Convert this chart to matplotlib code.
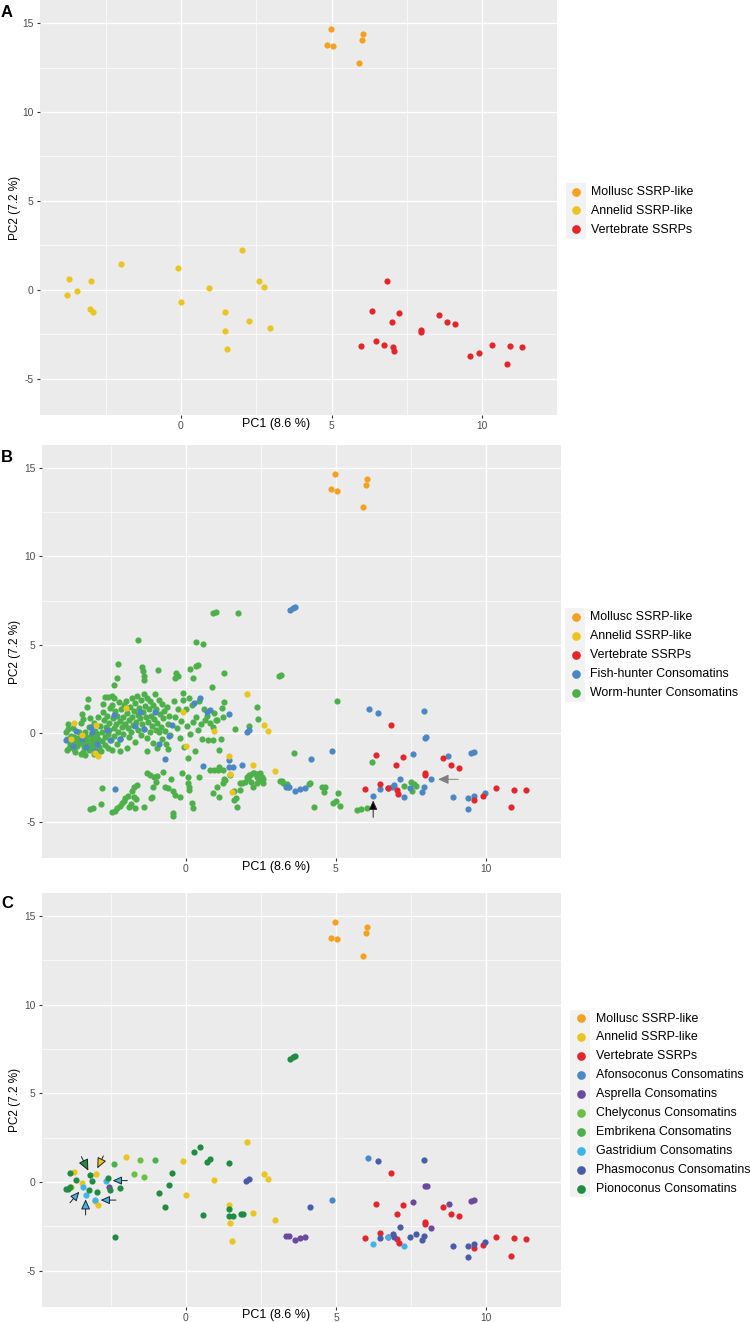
import matplotlib
matplotlib.use('Agg')
import matplotlib.pyplot as plt
from matplotlib.patches import Rectangle

plt.rcParams['font.family'] = ['Liberation Sans', 'DejaVu Sans']
plt.rcParams['axes.unicode_minus'] = False

# ---------------- data ----------------
mollusc = [(4.97, 14.65), (4.84, 13.79), (5.04, 13.71), (6.04, 14.39), (6.01, 14.05), (5.91, 12.77)]

annelid = [(-3.71, 0.58), (-3.80, -0.30), (-3.44, -0.08), (-2.99, 0.47), (-3.03, -1.09), (-2.92, -1.28),
           (-2.00, 1.43), (-0.10, 1.21), (0.00, -0.72), (0.94, 0.11), (1.45, -1.28), (1.47, -2.32),
           (1.54, -3.31), (2.04, 2.24), (2.25, -1.77), (2.60, 0.47), (2.74, 0.15), (2.97, -2.13)]

vertebrate = [(6.33, -1.22), (6.47, -2.88), (5.97, -3.16), (6.84, 0.49), (7.23, -1.32), (7.01, -1.79),
              (7.97, -2.26), (7.97, -2.36), (8.57, -1.41), (8.83, -1.79), (9.09, -1.94), (6.73, -3.11),
              (7.04, -3.22), (7.08, -3.43), (9.59, -3.75), (9.90, -3.54), (10.32, -3.09),
              (10.93, -3.18), (11.33, -3.20), (10.82, -4.18)]

fish_hunter = [(3.47, 6.97), (3.56, 7.08), (3.65, 7.16), (0.47, 2.02), (0.28, 1.70), (0.72, 1.20),
               (0.81, 1.32), (1.44, 1.08), (2.03, 0.07), (2.11, 0.19), (-0.47, 0.49), (-0.56, -0.17),
               (-0.88, -0.60), (-0.68, -1.45), (0.58, -1.87), (1.45, -1.51), (1.43, -1.92), (1.56, -1.92),
               (1.86, -1.79), (4.16, -1.44), (4.86, -1.00), (3.34, -3.03), (3.45, -3.05), (3.63, -3.29),
               (3.80, -3.15), (3.97, -3.12), (6.09, 1.37), (6.39, 1.17), (7.94, 1.26), (7.96, -0.27),
               (8.01, -0.23), (7.58, -1.15), (8.74, -1.26), (9.50, -1.12), (9.60, -1.05), (8.16, -2.60),
               (7.14, -2.58), (6.93, -2.90), (6.87, -3.01), (6.74, -3.10), (6.47, -3.17), (6.24, -3.53),
               (7.26, -3.60), (7.47, -3.10), (7.94, -3.06), (7.85, -3.31), (8.88, -3.62), (9.39, -3.63),
               (9.60, -3.52), (9.97, -3.37), (9.39, -4.26), (-2.36, -3.13), (-3.99, -0.40), (-3.66, 0.13),
               (-3.74, -0.72), (-3.44, -0.34), (-3.33, -0.75), (-3.16, 0.38), (-3.10, 0.06), (-2.94, -0.58),
               (-2.63, 0.19), (-2.52, -0.40), (-2.17, -0.34), (-1.70, 0.43), (-3.02, -1.02), (-1.40, 0.26),
               (-2.38, 1.02), (-1.53, 1.22), (-1.03, 1.22)]

worm_hunter = [
    # outliers
    (0.92, 6.78), (1.00, 6.87), (1.75, 6.80), (-1.60, 5.25), (0.35, 5.18), (0.59, 5.05), (-2.24, 3.92),
    (-1.45, 3.77), (-1.41, 3.54), (-1.37, 3.24), (-1.37, 3.01), (-0.92, 3.58), (-0.32, 3.43), (-0.36, 3.11),
    (-0.25, 3.24), (0.13, 3.62), (0.23, 3.11), (0.34, 3.80), (0.42, 3.86), (1.26, 3.41), (3.10, 3.24),
    (3.17, 3.28), (-2.29, 3.13), (-2.38, 2.75), (0.89, 2.60), (5.05, 1.83),
    (2.39, 1.50), (2.42, 0.83), (2.12, 0.44), (1.65, 0.25), (1.28, 1.77), (1.16, -0.30), (1.12, -0.94),
    (0.92, -0.38), (1.25, 0.94), (1.01, 0.75), (3.59, -1.13), (6.19, -1.64),
    # dense cluster
    (-3.98, 0.08), (-3.92, 0.23), (-3.90, 0.53), (-3.96, -0.96), (-3.89, -0.85), (-3.83, -0.15),
    (-3.79, -0.47), (-3.67, -1.04), (-3.57, -0.28), (-3.51, -0.56), (-3.95, -0.30), (-3.85, -0.60),
    (-3.75, 0.30), (-3.70, -0.20), (-3.62, -0.70), (-3.55, 0.05), (-3.60, -0.45), (-3.72, -0.90),
    (-3.44, 1.09), (-3.43, 0.81), (-3.47, 0.56), (-3.42, -1.05), (-3.48, -1.17), (-3.26, 1.94),
    (-3.27, 1.51), (-3.45, -0.30), (-3.40, -0.55), (-3.38, -0.80), (-3.35, 0.10), (-3.30, -0.20),
    (-3.28, -0.45), (-3.25, -0.70), (-3.22, -0.95), (-3.20, 0.35), (-3.15, -0.10), (-3.12, -0.35),
    (-3.10, -0.60), (-3.08, -0.85), (-3.05, 0.60), (-3.03, 0.15), (-3.00, -0.25), (-3.02, -0.50),
    (-3.06, -1.15), (-3.18, 0.85), (-3.35, -1.25),
    (-2.68, 2.03), (-2.57, 2.07), (-2.46, 2.11), (-2.40, 1.98), (-2.95, -0.05), (-2.92, -0.30),
    (-2.88, -0.75), (-2.85, 0.40), (-2.82, -1.00), (-2.80, 0.10), (-2.78, -0.45), (-2.75, 1.20),
    (-2.72, 0.75), (-2.70, -0.20), (-2.68, -0.65), (-2.65, 0.35), (-2.62, 1.00), (-2.60, -0.05),
    (-2.58, -0.85), (-2.55, 0.60), (-2.52, 1.45), (-2.90, 0.95), (-2.96, -1.05), (-2.76, 1.65),
    (-2.50, -0.40), (-2.55, 0.20),
    (-2.45, 1.60), (-2.42, 0.85), (-2.40, 0.30), (-2.38, -0.15), (-2.35, 1.25), (-2.33, 0.55),
    (-2.30, -0.60), (-2.28, 1.00), (-2.25, 0.10), (-2.22, 1.75), (-2.20, 0.70), (-2.18, -0.35),
    (-2.15, 1.40), (-2.12, 0.35), (-2.10, -0.05), (-2.08, 0.95), (-2.05, 1.60), (-2.02, 0.55),
    (-2.45, -0.95), (-2.20, -1.00),
    (-1.98, 1.85), (-1.95, 1.15), (-1.92, 0.30), (-1.90, -0.20), (-1.88, 0.75), (-1.85, 1.50),
    (-1.82, 0.05), (-1.80, 2.00), (-1.78, 0.95), (-1.75, 0.45), (-1.72, 1.25), (-1.70, -0.50),
    (-1.68, 1.70), (-1.65, 0.65), (-1.62, 2.10), (-1.60, 1.05), (-1.58, 0.20), (-1.55, 1.45),
    (-1.52, 0.85), (-1.50, -0.10), (-1.95, -0.85),
    (-1.48, 1.90), (-1.45, 0.55), (-1.42, 1.20), (-1.40, 2.25), (-1.38, 0.25), (-1.35, 1.55),
    (-1.32, 0.90), (-1.30, -0.25), (-1.28, 2.00), (-1.25, 0.65), (-1.22, 1.35), (-1.20, 0.05),
    (-1.18, 1.80), (-1.15, 1.00), (-1.12, 0.40), (-1.10, -0.55), (-1.08, 1.60), (-1.05, 0.80),
    (-1.02, 2.20), (-1.00, 0.20), (-1.30, -1.00),
    (-0.98, 1.40), (-0.95, 0.60), (-0.90, 1.90), (-0.88, 0.05), (-0.85, 1.10), (-0.82, 0.35),
    (-0.80, -0.30), (-0.78, 1.65), (-0.75, 0.85), (-0.72, 1.25), (-0.70, 0.15), (-0.65, -0.60),
    (-0.62, 1.50), (-0.60, 0.55), (-0.55, 1.00), (-0.52, -0.10), (-0.95, -0.85), (-0.60, -0.90),
    (-0.40, 1.80), (-0.35, 0.90), (-0.30, 0.30), (-0.25, 1.40), (-0.20, -0.25), (-0.15, 0.70),
    (-0.10, 1.90), (-0.05, -0.75), (0.00, 1.35), (0.05, 0.40), (0.10, 2.00), (0.15, -0.05),
    (0.20, 1.60), (0.25, 0.65), (0.30, -1.00), (0.35, 0.95), (0.40, 0.20), (0.45, 1.85), (0.50, 0.55),
    (0.55, -0.30), (0.60, 1.40), (0.65, 0.75), (0.70, 1.00), (0.75, -0.40), (0.80, 0.60), (0.90, 0.35),
    (0.95, 1.15), (1.05, 0.75), (1.20, 1.45), (-0.10, 2.30),
    # lower arc
    (-3.18, -4.27), (-3.09, -4.24), (-2.83, -4.01), (-2.77, -3.11), (-2.45, -4.46), (-2.35, -4.39),
    (-2.27, -4.24), (-2.18, -4.11), (-2.13, -3.95), (-2.05, -3.82), (-2.01, -3.65), (-1.93, -3.52),
    (-1.80, -3.28), (-1.72, -3.01), (-1.63, -2.94), (-1.72, -3.58), (-1.65, -3.73), (-1.83, -3.99),
    (-1.87, -4.18), (-1.69, -4.24), (-1.39, -4.14), (-1.16, -3.63), (-1.13, -3.58), (-1.08, -3.01),
    (-1.00, -2.73), (-1.04, -2.45), (-1.30, -2.26), (-1.19, -2.35), (-0.96, -2.39), (-0.74, -2.17),
    (-0.69, -3.01), (-0.60, -3.11), (-0.43, -3.24), (-0.35, -3.48), (-0.50, -2.60), (-0.41, -4.52),
    (-0.41, -4.67), (-0.19, -3.58), (-0.13, -2.26), (0.09, -2.45), (0.07, -2.82), (0.11, -3.01),
    (0.12, -3.20), (0.07, -1.41), (0.20, -3.95), (0.23, -4.20), (0.43, -2.47), (0.81, -2.07),
    (0.94, -2.07), (1.09, -2.07), (1.12, -1.88), (1.25, -2.07), (1.27, -2.58), (1.31, -2.64),
    (1.25, -2.79), (1.03, -3.01), (0.90, -3.35), (1.12, -3.58), (1.47, -2.37), (1.61, -3.77),
    (1.66, -3.67), (1.72, -4.14), (1.62, -3.24), (1.81, -2.82), (1.86, -2.82), (1.97, -2.73),
    (1.81, -3.20), (2.03, -2.45), (2.12, -2.35), (2.14, -2.35), (2.25, -2.26), (2.27, -2.22),
    (2.38, -2.30), (2.39, -2.45), (2.45, -2.64), (2.49, -2.26), (2.53, -2.45), (2.56, -2.79),
    (2.58, -2.56), (2.38, -2.79), (2.23, -3.01), (2.08, -2.54), (2.19, -2.73), (3.14, -2.69),
    (3.19, -2.71), (3.25, -2.82), (3.36, -2.88), (3.42, -3.01), (4.12, -2.86), (4.14, -2.82),
    (4.27, -4.18), (4.55, -3.05), (4.60, -3.30), (4.63, -3.05), (4.91, -3.92), (5.00, -3.84),
    (5.08, -3.39), (5.13, -4.11), (5.71, -4.35), (5.82, -4.29), (6.02, -4.20),
    (7.28, -2.98), (7.51, -2.77), (7.60, -2.88), (7.65, -2.96), (7.54, -3.26)]

afonsoconus = [(6.07, 1.37), (4.85, -1.00)]
asprella = [(3.34, -3.05), (3.44, -3.05), (3.64, -3.27), (3.81, -3.16), (3.97, -3.08), (7.95, -0.24),
            (8.02, -0.23), (7.57, -1.15), (8.74, -1.26), (9.50, -1.07), (9.60, -1.03), (8.16, -2.58),
            (6.94, -3.12), (-2.54, -0.26)]
chelyconus = [(-1.71, 0.43), (-1.40, 0.26), (-1.53, 1.22)]
embrikena = [(-2.38, 1.02), (-1.03, 1.22)]
gastridium = [(6.24, -3.52), (6.74, -3.08), (7.25, -3.59), (-2.65, 0.06), (-3.43, -0.30),
              (-3.33, -0.73), (-3.02, -1.02)]
phasmoconus = [(2.00, 0.08), (2.10, 0.19), (4.14, -1.43), (6.38, 1.17), (7.94, 1.26), (7.14, -2.56),
               (6.47, -3.16), (6.89, -2.93), (7.47, -3.08), (7.66, -2.95), (7.86, -3.29), (7.93, -3.06),
               (8.88, -3.59), (9.38, -3.63), (9.59, -3.52), (9.95, -3.38), (9.38, -4.23)]
pionoconus = [(3.47, 6.94), (3.56, 7.03), (3.65, 7.12), (0.28, 1.71), (0.47, 1.99), (0.70, 1.15),
              (0.82, 1.30), (1.44, 1.09), (-0.47, 0.49), (-0.55, -0.17), (-0.88, -0.60), (-0.69, -1.43),
              (0.57, -1.88), (1.45, -1.50), (1.43, -1.92), (1.56, -1.92), (1.83, -1.79), (1.90, -1.79),
              (-2.36, -3.12), (-3.85, 0.53), (-3.98, -0.41), (-3.91, -0.38), (-3.85, -0.30), (-3.66, 0.11),
              (-3.18, 0.38), (-3.13, 0.06), (-3.22, -0.47), (-2.94, -0.56), (-2.60, 0.24), (-2.52, -0.47),
              (-2.18, -0.36)]

# arrows: (tip, tail, fill colour, head scale)
arrows_b = [((6.24, -3.80), (6.24, -4.75), 'black', 1.0), ((8.40, -2.60), (9.07, -2.60), '#7F7F7F', 1.15)]
arrows_c = [((-3.24, 0.64), (-3.47, 1.43), '#1F8B43', 1.25), ((-2.94, 0.77), (-2.74, 1.47), '#EBC51F', 1.15),
            ((-2.43, 0.08), (-1.94, 0.08), '#3FB4E6', 1.0), ((-3.54, -0.55), (-3.85, -1.17), '#3FB4E6', 1.0),
            ((-3.33, -0.98), (-3.33, -1.86), '#3FB4E6', 1.1), ((-2.83, -1.02), (-2.32, -1.02), '#3FB4E6', 1.0)]

colors = {
    'Mollusc SSRP-like': '#F5A01F', 'Annelid SSRP-like': '#EAC41F', 'Vertebrate SSRPs': '#E3262B',
    'Fish-hunter Consomatins': '#4B86C5', 'Worm-hunter Consomatins': '#4DB04A',
    'Afonsoconus Consomatins': '#4A89C8', 'Asprella Consomatins': '#6B4A9E',
    'Chelyconus Consomatins': '#6CBE45', 'Embrikena Consomatins': '#4DB04A',
    'Gastridium Consomatins': '#3FB4E6', 'Phasmoconus Consomatins': '#4A5BA8',
    'Pionoconus Consomatins': '#1F8B43'}

base = [('Mollusc SSRP-like', mollusc), ('Annelid SSRP-like', annelid), ('Vertebrate SSRPs', vertebrate)]
panel_b_groups = base + [('Fish-hunter Consomatins', fish_hunter), ('Worm-hunter Consomatins', worm_hunter)]
panel_c_groups = base + [('Afonsoconus Consomatins', afonsoconus), ('Asprella Consomatins', asprella),
                         ('Chelyconus Consomatins', chelyconus), ('Embrikena Consomatins', embrikena),
                         ('Gastridium Consomatins', gastridium), ('Phasmoconus Consomatins', phasmoconus),
                         ('Pionoconus Consomatins', pionoconus)]

W, H = 750, 1322
fig = plt.figure(figsize=(W / 100, H / 100), dpi=100)


def px_rect(l, t, r, b):
    return [l / W, 1 - b / H, (r - l) / W, (b - t) / H]


panels = [
    dict(letter='A', rect=(40, 0, 557, 415), groups=base, xlim=(-4.68, 12.48), arrows=[],
         leg_key=(576, 210.7), key_bg=(566, 183, 586, 239), xlabel_y=424, order=None, let_y=17),
    dict(letter='B', rect=(41.7, 445, 561, 858), groups=panel_b_groups, xlim=(-4.79, 12.49), arrows=arrows_b,
         leg_key=(575.3, 655.3), key_bg=(565, 607.7, 585, 701.7), xlabel_y=867, order=[4, 3, 1, 0, 2],
         let_y=462),
    dict(letter='C', rect=(41.7, 893, 560.7, 1307), groups=panel_c_groups, xlim=(-4.79, 12.47), arrows=arrows_c,
         leg_key=(581, 1103.7), key_bg=(570, 1010, 590, 1196.7), xlabel_y=1315, order=None, let_y=908),
]

for p in panels:
    l, t, r, b = p['rect']
    ax = fig.add_axes(px_rect(l, t, r, b))
    ax.set_facecolor('#EBEBEB')
    ax.set_xlim(*p['xlim'])
    ax.set_ylim(-7.05, 16.3)
    ax.set_xticks([0, 5, 10])
    ax.set_xticks([-2.5, 2.5, 7.5], minor=True)
    ax.set_yticks([-5, 0, 5, 10, 15])
    ax.set_yticks([-2.5, 2.5, 7.5, 12.5], minor=True)
    ax.grid(which='major', color='white', lw=1.0)
    ax.grid(which='minor', color='white', lw=0.45)
    ax.set_axisbelow(True)
    for s in ax.spines.values():
        s.set_visible(False)
    ax.tick_params(which='major', length=2.5, width=0.8, color='#333333', labelsize=7.4,
                   labelcolor='#4D4D4D', pad=2)
    ax.tick_params(which='minor', length=0)

    groups = p['groups']
    order = p['order'] if p['order'] else list(range(len(groups)))
    handles = {}
    for i in order:
        name, pts = groups[i]
        xs = [q[0] for q in pts]
        ys = [q[1] for q in pts]
        handles[name] = ax.scatter(xs, ys, s=20, color=colors[name], linewidths=0, label=name, zorder=3)

    for tip, tail, col, sc in p['arrows']:
        ax.annotate('', xy=tip, xytext=tail, zorder=5,
                    arrowprops=dict(arrowstyle='-|>,head_length=0.55,head_width=0.25', mutation_scale=10 * sc,
                                    fc=col, ec='#222222' if col != '#7F7F7F' else '#7F7F7F', lw=0.7,
                                    shrinkA=0, shrinkB=0))

    # legend key background
    kl, kt, kr, kb = p['key_bg']
    fig.patches.append(Rectangle((kl / W, 1 - kb / H), (kr - kl) / W, (kb - kt) / H,
                                 transform=fig.transFigure, facecolor='#F2F2F2', edgecolor='none', zorder=-5))
    kx, ky = p['leg_key']
    leg = ax.legend([handles[g[0]] for g in groups], [g[0] for g in groups], loc='center left',
                    bbox_to_anchor=((kx - 5.9) / W, 1 - ky / H), bbox_transform=fig.transFigure,
                    frameon=False, borderpad=0, borderaxespad=0, handlelength=1.0, handletextpad=0.7,
                    labelspacing=0.56, fontsize=8.9, markerscale=1.4, scatterpoints=1)

    # axis labels
    fig.text(276 / W, 1 - p['xlabel_y'] / H, 'PC1 (8.6 %)', ha='center', va='center', fontsize=9, color='black')
    fig.text(15 / W, 1 - (t + b) / 2 / H, 'PC2 (7.2 %)', ha='center', va='center', rotation=90,
             fontsize=8.5, color='black')
    fig.text(1 / W, 1 - p['let_y'] / H, p['letter'], ha='left', va='baseline', fontsize=12,
             fontweight='bold', color='black')

fig.savefig('out.png', dpi=100, facecolor='white')
